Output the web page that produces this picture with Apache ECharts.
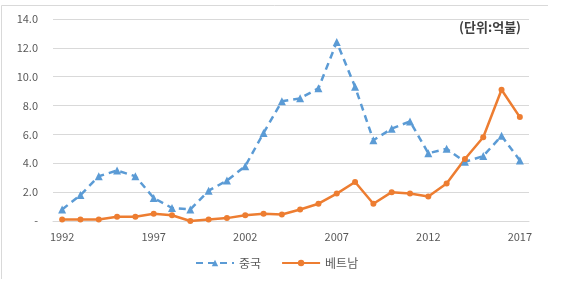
<!DOCTYPE html>
<html><head><meta charset="utf-8">
<script src="https://cdn.jsdelivr.net/npm/echarts@6/dist/echarts.min.js"></script>
<style>html,body{margin:0;padding:0;background:#fff}#c{width:565px;height:288px}</style>
</head><body><div id="c"></div>
<script>
var years = ['1992','1993','1994','1995','1996','1997','1998','1999','2000','2001','2002','2003','2004','2005','2006','2007','2008','2009','2010','2011','2012','2013','2014','2015','2016','2017'];
var china = [0.8,1.8,3.1,3.5,3.1,1.6,0.9,0.8,2.1,2.8,3.8,6.1,8.3,8.5,9.2,12.4,9.3,5.6,6.4,6.9,4.7,5.0,4.1,4.5,5.9,4.2];
var vietnam = [0.1,0.1,0.1,0.3,0.3,0.5,0.4,0.0,0.1,0.2,0.4,0.5,0.45,0.8,1.2,1.9,2.7,1.2,2.0,1.9,1.7,2.6,4.3,5.8,9.1,7.2];
var seriesNames = ['중국','베트남'];
var unitText = '(단위:억불)';

var chart = echarts.init(document.getElementById('c'));
var font = '"Noto Sans CJK KR","Noto Sans",sans-serif';
chart.setOption({
  animation: false,
  textStyle: {fontFamily: font},
  graphic: [
    {type:'line', shape:{x1:1.5,y1:5.5,x2:548,y2:5.5}, style:{stroke:'#d9d9d9',lineWidth:1}},
    {type:'line', shape:{x1:1.5,y1:5.5,x2:1.5,y2:279}, style:{stroke:'#d9d9d9',lineWidth:1}},
    {type:'text', right: 44, top: 21, style:{text: unitText, fill:'#404040', font:'bold 13px ' + font}}
  ],
  grid: {left: 53, right: 36, top: 19, bottom: 67},
  legend: {
    bottom: 14, left: 190, itemWidth: 38, itemHeight: 8, itemGap: 20,
    textStyle: {color:'#595959', fontSize: 12, fontFamily: font},
    data: seriesNames
  },
  xAxis: {
    type: 'category', data: years, boundaryGap: true,
    axisLine: {show: true, lineStyle:{color:'#d9d9d9'}},
    axisTick: {show: false},
    axisLabel: {interval: 4, color:'#595959', fontSize: 11, margin: 10}
  },
  yAxis: {
    type: 'value', min: 0, max: 14, interval: 2,
    axisLine: {show:false}, axisTick:{show:false},
    splitLine: {lineStyle:{color:'#d9d9d9'}},
    axisLabel: {color:'#595959', fontSize: 11, margin: 15,
      formatter: function(v){ return v === 0 ? '-' : v.toFixed(1); }}
  },
  series: [
    {name: seriesNames[0], type:'line', data: china, symbol:'triangle', symbolSize: 8,
     lineStyle:{color:'#5B9BD5', width:2.5, type:[7,5]}, itemStyle:{color:'#5B9BD5'}},
    {name: seriesNames[1], type:'line', data: vietnam, symbol:'circle', symbolSize: 6,
     lineStyle:{color:'#ED7D31', width:2.5}, itemStyle:{color:'#ED7D31'}}
  ]
});
</script></body></html>
